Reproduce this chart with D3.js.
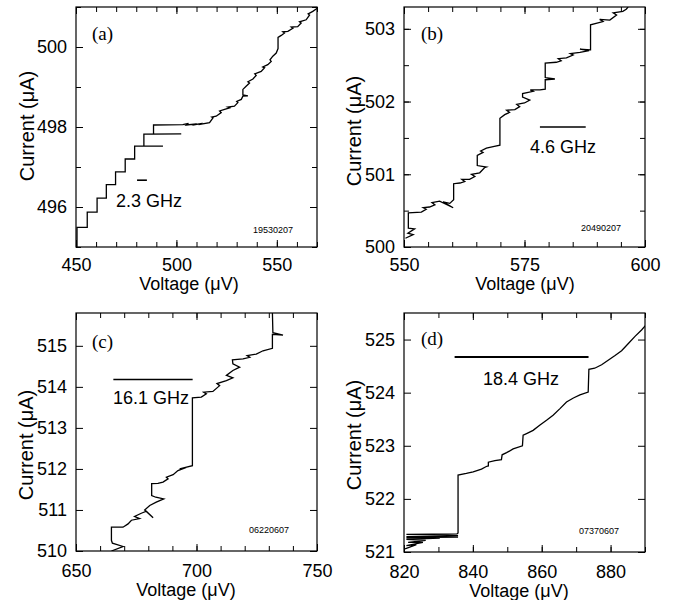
<!DOCTYPE html>
<html>
<head>
<meta charset="utf-8">
<script src="https://cdn.jsdelivr.net/npm/d3@7"></script>
<style>
  body { margin: 0; background: #fff; }
  svg { display: block; }
  text { font-family: "Liberation Sans", Arial, Helvetica, sans-serif; fill: #000; }
  .letter { font-family: "Liberation Serif", "Times New Roman", serif; }
</style>
</head>
<body>
<svg id="chart" width="683" height="600"></svg>
<script>
// I-V traces, [voltage uV, current uA]
const curveA = [
  [450.5,495.0],[450.5,495.49],[455.6,495.49],[455.6,495.87],[460.5,495.87],[460.5,496.22],
  [465.1,496.22],[465.1,496.56],[469.7,496.56],[469.7,496.88],[474.5,496.88],[474.5,497.20],
  [479.2,497.20],[479.2,497.52],[493.3,497.52],[483.8,497.52],[483.8,497.82],[502.4,497.83],
  [488.6,497.82],[488.6,498.05],[503.2,498.06],[506,498.09],[505,498.05],[510,498.08],[508,498.05],
  [513,498.09],[511,498.06],[516.5,498.11],[518.2,498.23],[517.6,498.25],[519.8,498.27],
  [522.3,498.36],[521.5,498.40],[524.0,498.44],[526.5,498.48],[525.6,498.50],[528.9,498.52],
  [530.6,498.61],[530.0,498.64],[532.3,498.69],[533.1,498.77],[535.6,498.78],[533.1,498.80],
  [533.1,498.94],[534.7,499.02],[536.4,499.10],[535.6,499.13],[538.1,499.20],[539.7,499.29],
  [539.0,499.33],[542.2,499.39],[543.9,499.48],[543.0,499.50],[545.5,499.56],[547.2,499.64],
  [546.6,499.68],[548.0,499.77],[549.7,499.85],[550.6,499.96],[550.6,500.24],[552.2,500.29],
  [553.8,500.35],[553.0,500.38],[555.5,500.39],[558.0,500.47],[557.2,500.50],[560.4,500.51],
  [562.1,500.60],[561.3,500.63],[564.6,500.68],[566.3,500.80],[565.6,500.83],[567.9,500.89],
  [569.6,500.95],[570.5,500.98]
];
const curveB = [
  [550.3,500.12],[551.9,500.17],[550.8,500.19],[552.2,500.25],[550.9,500.26],[550.9,500.47],
  [553.6,500.48],[554.6,500.52],[554.0,500.54],[555.3,500.55],[556.4,500.58],[555.8,500.61],
  [557.4,500.63],[560.2,500.54],[558.1,500.62],[559.5,500.60],[560.3,500.65],[560.3,500.87],
  [561.6,500.88],[562.6,500.90],[562.0,500.93],[563.6,500.93],[564.7,500.97],[564.0,501.0],
  [565.7,501.02],[566.7,501.09],[567.1,501.10],[565.2,501.12],[565.2,501.26],[566.4,501.30],
  [565.9,501.32],[567.1,501.36],[568.5,501.38],[569.9,501.40],[569.9,501.77],[570.9,501.82],
  [571.9,501.85],[571.3,501.88],[573.0,501.89],[574.0,501.93],[573.4,501.96],[575.0,501.98],
  [576.1,502.02],[574.6,502.06],[574.6,502.11],[576.8,502.14],[576.2,502.16],[578.2,502.16],
  [579.3,502.17],[579.3,502.30],[581.3,502.31],[579.3,502.33],[579.3,502.53],[581.6,502.54],
  [582.6,502.56],[582.0,502.59],[583.7,502.60],[585.1,502.64],[584.5,502.66],[586.5,502.675],
  [588.4,502.70],[586.5,502.72],[588.7,502.71],[588.7,503.055],[591.3,503.10],[590.6,503.13],
  [592.7,503.12],[594.1,503.19],[593.4,503.22],[595.4,503.24],[596.1,503.27],[596.5,503.3]
];
const curveC = [
  [664.7,510.0],[669.5,510.11],[665.1,510.19],[664.7,510.26],[664.7,510.58],[669.5,510.58],
  [671.6,510.66],[673.0,510.75],[676.4,510.79],[674.3,510.84],[677.1,510.92],[679.2,510.97],
  [682.0,510.81],[678.5,511.00],[680.6,511.11],[683.3,511.19],[686.4,511.27],[683.1,511.31],
  [681.4,511.35],[681.4,511.64],[684.0,511.65],[686.1,511.68],[688.2,511.76],[687.5,511.80],
  [690.3,511.86],[692.3,511.96],[695.8,512.04],[693.0,512.0],[698.3,512.08],[698.3,513.73],
  [702.0,513.75],[704.1,513.83],[703.0,513.87],[706.8,513.89],[709.6,514.03],[708.5,514.08],
  [712.4,514.15],[715.1,514.22],[712.4,514.28],[715.1,514.40],[717.9,514.48],[715.1,514.56],
  [714.9,514.66],[719.3,514.68],[722.1,514.72],[721.0,514.76],[724.8,514.80],[727.6,514.88],
  [731.5,514.94],[731.5,515.28],[735.9,515.26],[731.7,515.32],[731.5,515.8]
];
const curveD = [
  [820.3,521.06],[823.6,521.14],[820.7,521.12],[825.5,521.18],[821.2,521.18],[826.3,521.22],
  [820.7,521.24],[830.4,521.26],[820.7,521.27],[835.7,521.28],[820.7,521.29],[835.7,521.31],
  [820.7,521.33],[835.4,521.34],[835.7,521.36],[835.7,522.45],[838.1,522.48],[840.1,522.51],
  [842.5,522.56],[843.9,522.61],[844.5,522.62],[844.5,522.69],[846.4,522.72],[848.3,522.74],
  [848.5,522.83],[849.8,522.87],[851.7,522.94],[854.4,523.00],[854.6,523.20],[855.6,523.23],
  [857.5,523.29],[859.5,523.39],[861.4,523.48],[863.3,523.575],[865.3,523.70],[867.2,523.825],
  [869.2,523.90],[871.1,523.96],[873.5,524.01],[873.7,524.44],[875.4,524.46],[877.4,524.525],
  [879.3,524.61],[881.3,524.70],[883.2,524.79],[885.1,524.92],[887.1,525.06],[889.0,525.18],
  [890.1,525.26]
];

// frequency scale bars: [V start, V end, I]
const freqBars = [[480.4,485.3,496.67],[578.2,587.7,501.65],[665.5,698.4,514.18],[834.7,873.6,524.67]];
const freqLabels = ["2.3 GHz","4.6 GHz","16.1 GHz","18.4 GHz"];
const panelLetters = ["(a)","(b)","(c)","(d)"];
const runIds = ["19530207","20490207","06220607","07370607"];

const xDomains = [[450,570],[550,600],[650,750],[820,890]];
const yDomains = [[495,501],[500,503.3],[510,515.8],[521,525.5]];
const xTickLabels = [[450,500,550],[550,575,600],[650,700,750],[820,840,860,880]];
const yTickLabels = [[496,498,500],[500,501,502,503],[510,511,512,513,514,515],[521,522,523,524,525]];
const xMinorSteps = [10,5,10,10];
const yMinorSteps = [1,0.5,null,null];

const curves = [curveA,curveB,curveC,curveD];

// layout
const layout = [
  {x:76,  y:7,   w:241, h:240, xPad:11, xTitle:[189,290], yTitle:[34,126],  letter:[92,40],  freq:[116,207],   run:[253,233]},
  {x:404, y:7,   w:241, h:240, xPad:11, xTitle:[525,290], yTitle:[361,131], letter:[421,40], freq:[530,152.7], run:[581,231]},
  {x:76,  y:313, w:241, h:238, xPad:13, xTitle:[186,596], yTitle:[33,445],  letter:[92,348], freq:[113,404],   run:[249,533]},
  {x:404, y:313, w:241, h:239, xPad:13, xTitle:[519,597], yTitle:[361,435], letter:[421,345],freq:[483,385.3], run:[579,534]}
];

const svg = d3.select('#chart');

curves.forEach((curve, i) => {
  const L = layout[i];
  const g = svg.append('g').attr('transform', `translate(${L.x},${L.y})`);

  const x = d3.scaleLinear().domain(xDomains[i]).range([0, L.w]);
  const y = d3.scaleLinear().domain(yDomains[i]).range([L.h, 0]);

  const xMinor = d3.range(xDomains[i][0], xDomains[i][1] + 1e-6, xMinorSteps[i]);
  const yMinor = yMinorSteps[i] ? d3.range(yDomains[i][0], yDomains[i][1] + 1e-6, yMinorSteps[i]) : [];

  // minor ticks, all four sides
  const minor = [
    d3.axisBottom(x).tickValues(xMinor).tickSize(-5).tickFormat(''),
    d3.axisTop(x).tickValues(xMinor).tickSize(-5).tickFormat(''),
    d3.axisLeft(y).tickValues(yMinor).tickSize(-5).tickFormat(''),
    d3.axisRight(y).tickValues(yMinor).tickSize(-5).tickFormat('')
  ];
  const trans = [`translate(0,${L.h})`, '', '', `translate(${L.w},0)`];
  minor.forEach((ax, k) => g.append('g').attr('transform', trans[k]).call(ax));

  // major ticks + labels
  g.append('g').attr('transform', `translate(0,${L.h})`)
    .call(d3.axisBottom(x).tickValues(xTickLabels[i]).tickSize(-7).tickPadding(L.xPad).tickFormat(d3.format('d')));
  g.append('g')
    .call(d3.axisTop(x).tickValues(xTickLabels[i]).tickSize(-7).tickFormat(''));
  g.append('g')
    .call(d3.axisLeft(y).tickValues(yTickLabels[i]).tickSize(-7).tickPadding(9).tickFormat(d3.format('d')));
  g.append('g').attr('transform', `translate(${L.w},0)`)
    .call(d3.axisRight(y).tickValues(yTickLabels[i]).tickSize(-7).tickFormat(''));

  g.selectAll('.domain').remove();
  g.selectAll('.tick line').attr('stroke', '#000').attr('stroke-width', 1);
  g.selectAll('.tick text').style('font-size', '18px').attr('fill', '#000');

  g.append('rect').attr('width', L.w).attr('height', L.h)
    .attr('fill', 'none').attr('stroke', '#000').attr('stroke-width', 1.2);

  const clipId = 'clip' + i;
  g.append('clipPath').attr('id', clipId)
    .append('rect').attr('width', L.w).attr('height', L.h);

  const line = d3.line().x(d => x(d[0])).y(d => y(d[1]));
  g.append('path')
    .datum(curve)
    .attr('clip-path', `url(#${clipId})`)
    .attr('d', line)
    .attr('fill', 'none')
    .attr('stroke', '#000')
    .attr('stroke-width', 1.3)
    .attr('stroke-linejoin', 'miter');

  const fb = freqBars[i];
  g.append('line')
    .attr('x1', x(fb[0])).attr('x2', x(fb[1]))
    .attr('y1', y(fb[2])).attr('y2', y(fb[2]))
    .attr('stroke', '#000').attr('stroke-width', i === 3 ? 2 : 1.6);

  // texts in page coords
  svg.append('text').attr('class', 'letter')
    .attr('x', L.letter[0]).attr('y', L.letter[1])
    .style('font-size', '19px').text(panelLetters[i]);

  svg.append('text')
    .attr('x', L.freq[0]).attr('y', L.freq[1])
    .style('font-size', '18px').text(freqLabels[i]);

  svg.append('text')
    .attr('x', L.run[0]).attr('y', L.run[1])
    .style('font-size', '9px').text(runIds[i]);

  svg.append('text')
    .attr('x', L.xTitle[0]).attr('y', L.xTitle[1])
    .attr('text-anchor', 'middle')
    .style('font-size', '18px').text('Voltage (μV)');

  svg.append('text')
    .attr('transform', `translate(${L.yTitle[0]},${L.yTitle[1]}) rotate(-90)`)
    .attr('text-anchor', 'middle')
    .style('font-size', '20px').text('Current (μA)');
});
</script>
</body>
</html>
